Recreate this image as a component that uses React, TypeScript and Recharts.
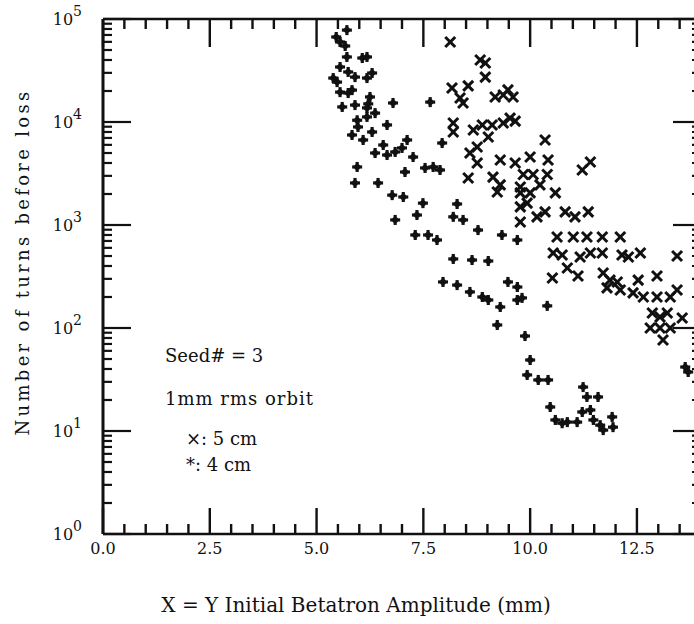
import React from 'react';
import { ScatterChart, Scatter, XAxis, YAxis, Label, Customized } from 'recharts';

// x tick positions (every 0.5 mm), labelled ones are the majors
const xTicks = [0, 0.5, 1, 1.5, 2, 2.5, 3, 3.5, 4, 4.5, 5, 5.5, 6, 6.5, 7, 7.5, 8, 8.5, 9, 9.5, 10, 10.5, 11, 11.5, 12, 12.5, 13, 13.5, 14];
const xMajor = [0, 2.5, 5, 7.5, 10, 12.5];

// log y ticks, decades are the majors
const yTicks = [
  1, 2, 3, 4, 5, 6, 7, 8, 9,
  10, 20, 30, 40, 50, 60, 70, 80, 90,
  100, 200, 300, 400, 500, 600, 700, 800, 900,
  1000, 2000, 3000, 4000, 5000, 6000, 7000, 8000, 9000,
  10000, 20000, 30000, 40000, 50000, 60000, 70000, 80000, 90000,
  100000,
];
const yMajor = [1, 10, 100, 1000, 10000, 100000];
const yExp = ['0', '1', '2', '3', '4', '5'];

// 5 cm runs (x markers)
const wideAmp = [
  8.13, 8.83, 8.95, 8.95, 8.17, 8.55, 8.36, 8.43, 9.18, 9.37,
  9.48, 9.60, 8.20, 8.20, 8.67, 8.88, 9.11, 9.37, 9.53, 9.65,
  9.02, 10.35, 8.76, 8.59, 8.76, 9.30, 9.65, 10.00, 10.42, 10.40,
  10.07, 9.84, 11.41, 11.22, 8.55, 9.13, 9.30, 9.23, 9.77, 9.77,
  10.00, 10.23, 10.59, 9.77, 9.93, 10.16, 10.35, 10.82, 11.05, 11.36,
  9.77, 10.63, 11.01, 11.33, 11.69, 12.11, 10.54, 10.75, 11.17, 11.41,
  11.69, 12.15, 12.30, 12.58, 13.44, 10.87, 11.12, 10.52, 11.71, 11.87,
  12.04, 12.53, 12.97, 11.80, 12.11, 12.41, 12.65, 12.97, 13.28, 13.44,
  12.86, 13.04, 13.21, 13.56, 12.81, 13.04, 13.11, 13.28,
];
const wideTurns = [
  59800, 40000, 37400, 27300, 21400, 22400, 17100, 15300, 17500, 18300,
  20500, 17500, 9780, 8000, 8360, 9360, 9360, 9780, 10900, 10200,
  7150, 6690, 5720, 5000, 4000, 4280, 4000, 4570, 4280, 3090,
  3090, 3090, 4090, 3420, 2860, 2920, 2450, 2090, 2340, 2050,
  2050, 2450, 2050, 1500, 1630, 1200, 1340, 1340, 1200, 1340,
  1070, 764, 764, 764, 764, 764, 535, 512, 489, 535,
  535, 512, 489, 535, 500, 382, 320, 306, 342, 292,
  280, 292, 320, 245, 234, 219, 200, 200, 200, 234,
  140, 128, 140, 125, 100, 100, 76.5, 100,
];

// 4 cm runs (* markers)
const narrowAmp = [
  5.71, 5.46, 5.55, 5.67, 5.71, 6.07, 6.18, 5.55, 5.74, 5.90,
  6.30, 6.18, 5.39, 5.48, 5.55, 5.74, 5.83, 6.25, 6.21, 5.60,
  5.90, 6.18, 6.37, 6.79, 7.66, 5.95, 6.18, 5.97, 6.65, 5.83,
  6.09, 6.30, 7.12, 6.56, 6.37, 6.65, 6.84, 7.00, 7.26, 7.94,
  5.95, 7.07, 7.54, 7.73, 7.89, 5.90, 6.44, 6.77, 7.03, 7.49,
  7.35, 6.84, 8.29, 8.20, 8.43, 7.31, 7.61, 7.82, 8.78, 9.34,
  9.70, 8.20, 8.64, 9.02, 7.96, 8.29, 8.59, 8.88, 9.02, 9.30,
  9.70, 9.81, 9.48, 9.70, 10.40, 9.23, 9.88, 10.00, 9.93, 10.19,
  10.42, 11.24, 11.33, 11.59, 10.47, 11.22, 11.41, 10.59, 10.87, 11.10,
  11.48, 11.71, 11.94, 11.92, 13.63, 10.75, 11.64, 13.70,
];
const narrowTurns = [
  78000, 66900, 59800, 54700, 42800, 41800, 42800, 34200, 30600, 27300,
  29900, 26700, 26700, 24400, 19500, 19100, 20400, 17500, 15000, 14000,
  14600, 13700, 12200, 15300, 15600, 10400, 11200, 8950, 9360, 7480,
  6690, 8000, 6690, 5980, 5000, 4780, 5120, 5600, 4570, 6250,
  3660, 3270, 3580, 3660, 3420, 2560, 2560, 1950, 1870, 1630,
  1250, 1120, 1600, 1200, 1120, 800, 800, 715, 893, 800,
  715, 468, 457, 447, 280, 261, 224, 200, 187, 160,
  187, 196, 280, 250, 164, 107, 83.6, 48.9, 35, 31.3,
  31.3, 26.7, 21.4, 21.4, 17.1, 15.3, 16.0, 12.8, 12.2, 12.2,
  12.8, 10.2, 10.9, 13.7, 41.8, 11.9, 11.4, 37.4,
];

const notes = ['Seed# = 3', '1mm rms orbit', '\u00d7: 5 cm', '*: 4 cm'];

const FONT = '"DejaVu Serif", serif';
const INK = '#111';

const wideData = wideAmp.map((x, i) => ({ x, y: wideTurns[i] }));
const narrowData = narrowAmp.map((x, i) => ({ x, y: narrowTurns[i] }));

const CrossMark = (props: any) => {
  const { cx, cy } = props;
  const r = 5;
  return (
    <g stroke={INK} strokeWidth={3}>
      <line x1={cx - r} y1={cy - r} x2={cx + r} y2={cy + r} />
      <line x1={cx - r} y1={cy + r} x2={cx + r} y2={cy - r} />
    </g>
  );
};

const StarMark = (props: any) => {
  const { cx, cy } = props;
  return (
    <g fill={INK}>
      <rect x={cx - 1.6} y={cy - 5} width={3.2} height={10} />
      <rect x={cx - 5} y={cy - 1.6} width={10} height={3.2} />
      <circle cx={cx} cy={cy} r={3} />
    </g>
  );
};

const BottomTick = (props: any) => {
  const { x, y, payload } = props;
  const major = xMajor.includes(payload.value);
  return (
    <g>
      <line x1={x} x2={x} y1={y} y2={y - (major ? 26 : 10)} stroke={INK} strokeWidth={2.4} />
      {major && (
        <text x={x} y={y + 20} textAnchor="middle" fontFamily={FONT} fontSize={16} fill={INK}>
          {payload.value.toFixed(1)}
        </text>
      )}
    </g>
  );
};

const TopTick = (props: any) => {
  const { x, y, payload } = props;
  const major = xMajor.includes(payload.value);
  return <line x1={x} x2={x} y1={y} y2={y + (major ? 28 : 10)} stroke={INK} strokeWidth={2.4} />;
};

const LeftTick = (props: any) => {
  const { x, y, payload } = props;
  const idx = yMajor.indexOf(payload.value);
  const major = idx >= 0;
  return (
    <g>
      <line x1={x} x2={x + (major ? 28 : 9)} y1={y} y2={y} stroke={INK} strokeWidth={2.2} />
      {major && (
        <text x={x - 21} y={y + 6} textAnchor="end" fontFamily={FONT} fontSize={16} fill={INK}>
          10
          <tspan dy={-9} fontSize={14}>{yExp[idx]}</tspan>
        </text>
      )}
    </g>
  );
};

const RightTick = (props: any) => {
  const { x, y, payload } = props;
  const major = yMajor.includes(payload.value);
  return <line x1={x} x2={x - (major ? 28 : 9)} y1={y} y2={y} stroke={INK} strokeWidth={2.2} />;
};

const Notes = () => (
  <g fontFamily={FONT} fontSize={18} fill={INK}>
    <text x={165} y={362}>{notes[0]}</text>
    <text x={165} y={405} letterSpacing={1}>{notes[1]}</text>
    <text x={186} y={445}>{notes[2]}</text>
    <text x={186} y={471}>{notes[3]}</text>
  </g>
);

export default function App() {
  return (
    <div style={{ position: 'fixed', left: 0, top: 0, width: 694, height: 624, overflow: 'hidden', background: '#fff' }}>
      <ScatterChart width={712} height={624} margin={{ top: 18, right: 10, bottom: 0, left: 0 }}>
        <XAxis
          dataKey="x"
          type="number"
          domain={[0, 14]}
          ticks={xTicks}
          interval={0}
          tickSize={0}
          tickMargin={0}
          tick={<BottomTick />}
          height={90}
          axisLine={{ stroke: INK, strokeWidth: 2.5 }}
          allowDataOverflow
        >
          <Label
            content={(p: any) => {
              const vb = p.viewBox;
              return (
                <text x={vb.x + vb.width / 2 - 46} y={vb.y + 78} textAnchor="middle" fontFamily={FONT} fontSize={20} fill={INK}>
                  X = Y Initial Betatron Amplitude (mm)
                </text>
              );
            }}
          />
        </XAxis>
        <XAxis
          xAxisId="top"
          orientation="top"
          dataKey="x"
          type="number"
          domain={[0, 14]}
          ticks={xTicks}
          interval={0}
          tickSize={0}
          tickMargin={0}
          tick={<TopTick />}
          height={1}
          axisLine={{ stroke: INK, strokeWidth: 2.5 }}
          allowDataOverflow
        />
        <YAxis
          dataKey="y"
          type="number"
          scale="log"
          domain={[1, 100000]}
          ticks={yTicks}
          interval={0}
          tickSize={0}
          tickMargin={0}
          tick={<LeftTick />}
          width={103}
          axisLine={{ stroke: INK, strokeWidth: 3 }}
          allowDataOverflow
        >
          <Label
            content={() => (
              <text
                x={22}
                y={262}
                transform="rotate(-90 22 262)"
                textAnchor="middle"
                dominantBaseline="central"
                fontFamily={FONT}
                fontSize={18}
                letterSpacing={3.3}
                fill={INK}
              >
                Number of turns before loss
              </text>
            )}
          />
        </YAxis>
        <YAxis
          yAxisId="right"
          orientation="right"
          dataKey="y"
          type="number"
          scale="log"
          domain={[1, 100000]}
          ticks={yTicks}
          interval={0}
          tickSize={0}
          tickMargin={0}
          tick={<RightTick />}
          width={1}
          axisLine={{ stroke: INK, strokeWidth: 3 }}
          allowDataOverflow
        />
        <Scatter data={narrowData} shape={<StarMark />} isAnimationActive={false} />
        <Scatter data={wideData} shape={<CrossMark />} isAnimationActive={false} />
        <Customized component={<Notes />} />
      </ScatterChart>
    </div>
  );
}
